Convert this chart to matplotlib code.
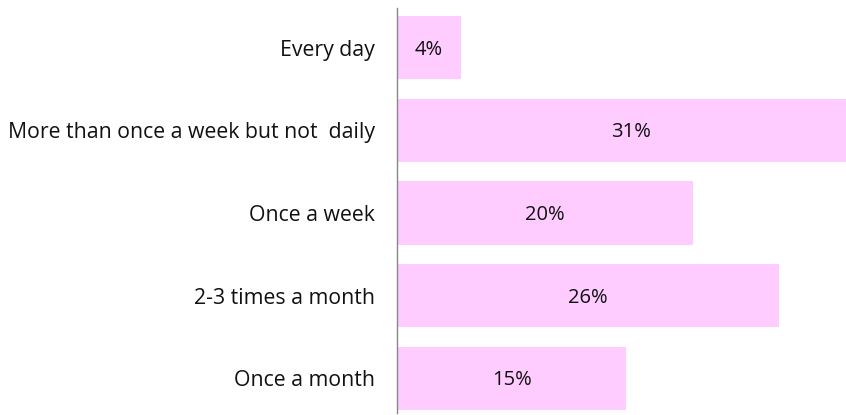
import matplotlib
matplotlib.use('Agg')
import matplotlib.pyplot as plt

plt.rcParams['font.family'] = ['Open Sans', 'DejaVu Sans']

categorias = ['Every day', 'More than once a week but not  daily', 'Once a week',
              '2-3 times a month', 'Once a month']
valores = [4.3, 31.6, 20.0, 25.8, 15.5]
etiquetas = ['4%', '31%', '20%', '26%', '15%']

fig = plt.figure(figsize=(8.46, 4.15), dpi=100)
ax = fig.add_axes([397/846, 2/415, 449/846, 405/415])

pos = list(range(len(categorias)))
barras = ax.barh(pos, valores, height=0.763, color='#FFCCFF', clip_on=True)

# etiqueta de porcentaje centrada en cada barra
for p, v, t in zip(pos, valores, etiquetas):
    ax.text(v/2, p + 0.025, t, ha='center', va='center', fontsize=14.5, color='#111111')

ax.set_yticks(pos)
ax.set_yticklabels(categorias, fontsize=15.3, color='#111111')
ax.tick_params(axis='y', length=0, pad=16)
ax.set_xticks([])
ax.set_xlim(0, 449/14.8)
ax.set_ylim(4.42, -0.48)

for s in ['top', 'right', 'bottom']:
    ax.spines[s].set_visible(False)
ax.spines['left'].set_color('#888888')
ax.spines['left'].set_linewidth(1.0)

fig.savefig('out.png', dpi=100)
